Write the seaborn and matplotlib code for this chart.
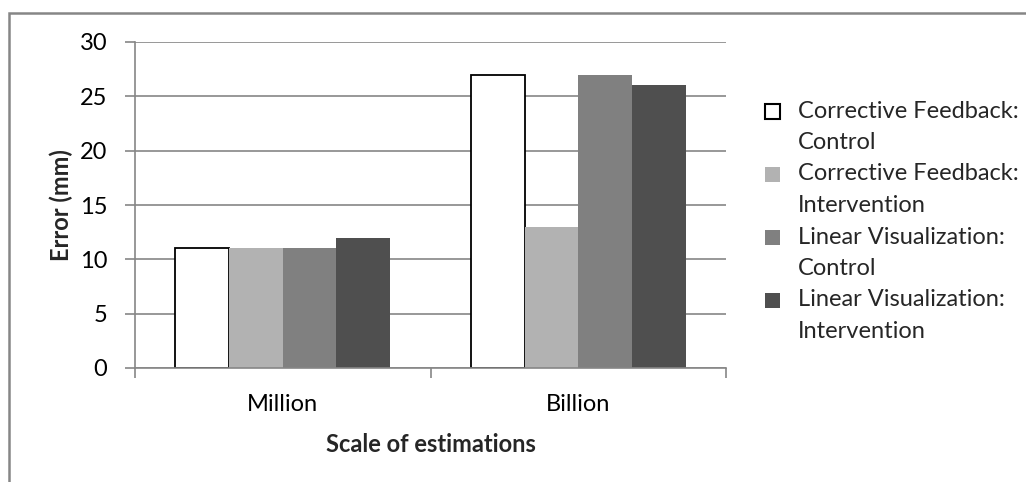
import matplotlib
matplotlib.use("Agg")
import matplotlib.pyplot as plt
from matplotlib.patches import Rectangle
import seaborn as sns
import pandas as pd

# Chart data
scales = ["Million", "Billion"]
conditions = [
    "Corrective Feedback:\nControl",
    "Corrective Feedback:\nIntervention",
    "Linear Visualization:\nControl",
    "Linear Visualization:\nIntervention",
]
million_errors = [11, 11, 11, 12]
billion_errors = [27, 13, 27, 26]
y_ticks = [0, 5, 10, 15, 20, 25, 30]

colors = ["#ffffff", "#b2b2b2", "#808080", "#4f4f4f"]
grid_gray = "#868686"

rows = []
for cond, m, b in zip(conditions, million_errors, billion_errors):
    rows.append({"scale": "Million", "condition": cond, "error": m})
    rows.append({"scale": "Billion", "condition": cond, "error": b})
df = pd.DataFrame(rows)

sns.set_style("white")
plt.rcParams["font.family"] = ["Lato", "DejaVu Sans"]
FS = 17

W, H = 1026, 482
fig = plt.figure(figsize=(W / 100, H / 100), dpi=100)


def fx(px):
    return px / W


def fy(py):
    return 1 - py / H


ax = fig.add_axes([fx(135), fy(368), fx(726) - fx(135), fy(42) - fy(368)])

sns.barplot(
    data=df, x="scale", y="error", hue="condition",
    order=scales, hue_order=conditions, palette=colors,
    saturation=1, width=4 / 5.5, linewidth=0, legend=False, ax=ax,
)

# Outline only the white series
for bar in ax.containers[0]:
    bar.set_edgecolor("black")
    bar.set_linewidth(1.3)

ax.set_xlim(-0.5, 1.5)
ax.set_ylim(0, 30)
ax.set_yticks(y_ticks)
ax.yaxis.grid(True, color=grid_gray, linewidth=1.2)
ax.set_axisbelow(True)

for side in ["top", "right"]:
    ax.spines[side].set_visible(False)
for side in ["left", "bottom"]:
    ax.spines[side].set_color(grid_gray)
    ax.spines[side].set_linewidth(1.2)

ax.tick_params(axis="y", left=True, length=7, width=1.2, color=grid_gray,
               labelsize=FS, pad=13, labelcolor="black")
ax.tick_params(axis="x", which="major", bottom=False, labelsize=FS, pad=15,
               labelcolor="black")
ax.set_xticks([-0.5, 0.5, 1.5], minor=True)
ax.tick_params(axis="x", which="minor", bottom=True, length=7, width=1.2,
               color=grid_gray)

ax.set_xlabel("Scale of estimations", fontsize=FS, fontweight="bold", labelpad=13)
ax.set_ylabel("Error (mm)", fontsize=FS, fontweight="bold", labelpad=5)

# Outer chart frame
fig.patches.append(Rectangle((fx(9), -0.2), 1.2, fy(13) + 0.2, transform=fig.transFigure,
                             fill=False, edgecolor=grid_gray, linewidth=1.8))

# Legend with swatches aligned to the first line of each label
line_h = 31.5
y0 = 111
for i, (cond, col) in enumerate(zip(conditions, colors)):
    yc = y0 + i * 2 * line_h
    fig.patches.append(Rectangle((fx(765), fy(yc + 7.5)), fx(15), fy(yc - 7.5) - fy(yc + 7.5),
                                 transform=fig.transFigure, facecolor=col,
                                 edgecolor="black" if col == "#ffffff" else "none",
                                 linewidth=1.5))
    for k, line in enumerate(cond.split("\n")):
        fig.text(fx(798), fy(yc + k * line_h), line, fontsize=FS, va="center", ha="left")

fig.savefig("out.png", dpi=100)
